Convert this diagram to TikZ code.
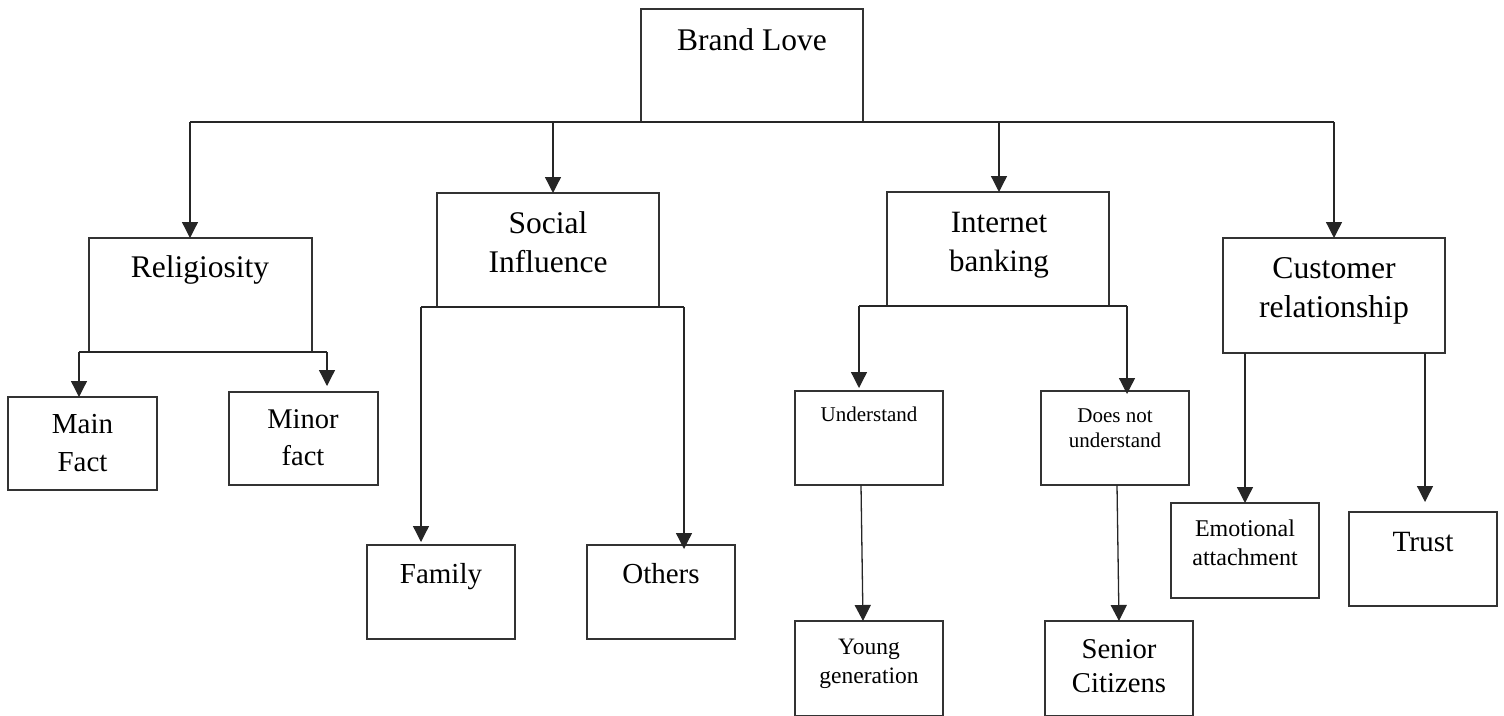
\documentclass[tikz,border=0pt]{standalone}
\usepackage{fontspec}
\setmainfont{Liberation Serif}
\usetikzlibrary{arrows.meta,calc}
\tikzset{
  box/.style={draw=black!80, line width=1.3pt, inner sep=0pt, outer sep=0pt},
  conn/.style={draw=black!85, line width=1.3pt},
  arr/.style={conn, -{Triangle[width=16pt,length=16pt]}},
  lbl/.style={anchor=base, align=center, inner sep=0pt, text=black},
}
\newcommand{\fs}[2]{\fontsize{#1}{#2}\selectfont}
\begin{document}
\begin{tikzpicture}[x=1pt,y=-1pt]
\useasboundingbox (0,0) rectangle (1504,715);
% boxes
\node[box, minimum width=222, minimum height=113] (brand) at (752,65.5) {};
\node[box, minimum width=223, minimum height=114] (rel) at (200.5,295) {};
\node[box, minimum width=222, minimum height=114] (soc) at (548,250) {};
\node[box, minimum width=222, minimum height=114] (inet) at (998,249) {};
\node[box, minimum width=222, minimum height=115] (cust) at (1334,295.5) {};
\node[box, minimum width=149, minimum height=93] (main) at (82.5,443.5) {};
\node[box, minimum width=149, minimum height=93] (minor) at (303.5,438.5) {};
\node[box, minimum width=148, minimum height=94] (fam) at (441,592) {};
\node[box, minimum width=148, minimum height=94] (oth) at (661,592) {};
\node[box, minimum width=148, minimum height=94] (und) at (869,438) {};
\node[box, minimum width=148, minimum height=94] (dnu) at (1115,438) {};
\node[box, minimum width=148, minimum height=95] (young) at (869,668.5) {};
\node[box, minimum width=148, minimum height=95] (sen) at (1119,668.5) {};
\node[box, minimum width=148, minimum height=95] (emo) at (1245,550.5) {};
\node[box, minimum width=148, minimum height=94] (trust) at (1423,559) {};
% texts
\node[lbl, font=\fs{31.5}{39}] (tbrand) at (752,50) {Brand Love};
\node[lbl, font=\fs{31.5}{39}] (trel) at (200,277) {Religiosity};
\node[lbl, font=\fs{31.5}{39}] (tsoc) at (548,272) {Social\\Influence};
\node[lbl, font=\fs{31}{39}] (tinet) at (999,271.5) {Internet\\banking};
\node[lbl, font=\fs{31.7}{39}] (tcust) at (1334,317) {Customer\\relationship};
\node[lbl, font=\fs{29}{38}] (tmain) at (82.5,471) {Main\\Fact};
\node[lbl, font=\fs{28.5}{37}] (tminor) at (303,465) {Minor\\fact};
\node[lbl, font=\fs{29}{36}] (tfam) at (441,583) {Family};
\node[lbl, font=\fs{29}{36}] (toth) at (661,583) {Others};
\node[lbl, font=\fs{21}{25}] (tund) at (869,421) {Understand};
\node[lbl, font=\fs{21}{25}] (tdnu) at (1115,447) {Does not\\understand};
\node[lbl, font=\fs{23.5}{29}] (tyoung) at (869,683) {Young\\generation};
\node[lbl, font=\fs{28.7}{34}] (tsen) at (1119,692) {Senior\\Citizens};
\node[lbl, font=\fs{24}{29}] (temo) at (1245,565) {Emotional\\attachment};
\node[lbl, font=\fs{29.4}{36}] (ttrust) at (1423,551) {Trust};
% top bus
\coordinate (b1) at (190,122);
\coordinate (b2) at (553,122);
\coordinate (b3) at (999,122);
\coordinate (b4) at (1334,122);
\draw[conn] (b1) -- (b4);
\draw[arr] (b1) -- (b1 |- rel.north);
\draw[arr] (b2) -- (b2 |- soc.north);
\draw[arr] (b3) -- (b3 |- inet.north);
\draw[arr] (b4) -- (b4 |- cust.north);
% religiosity
\coordinate (r1) at (79,352);
\coordinate (r2) at (327,352);
\draw[conn] (r1) -- (r2);
\draw[arr] (r1) -- (r1 |- main.north);
\draw[arr] (r2) -- ($(r2 |- minor.north)+(0,-6)$);
% social influence
\coordinate (s1) at (421,307);
\coordinate (s2) at (684,307);
\draw[conn] (s1) -- (s2);
\draw[arr] (s1) -- ($(s1 |- fam.north)+(0,-3)$);
\draw[arr] (s2) -- ($(s2 |- oth.north)+(0,4)$);
% internet banking
\coordinate (i1) at (859,306);
\coordinate (i2) at (1127,306);
\draw[conn] (i1) -- (i2);
\draw[arr] (i1) -- ($(i1 |- und.north)+(0,-3)$);
\draw[arr] (i2) -- ($(i2 |- dnu.north)+(0,3)$);
\draw[arr] ([xshift=-8pt]und.south) -- ([xshift=-6pt]young.north);
\draw[arr] ([xshift=2pt]dnu.south) -- (sen.north);
% customer relationship
\draw[arr] ([xshift=-89pt]cust.south) -- (emo.north);
\draw[arr] ([xshift=91pt]cust.south) -- ($(trust.north)+(2,-10)$);
\end{tikzpicture}
\end{document}
